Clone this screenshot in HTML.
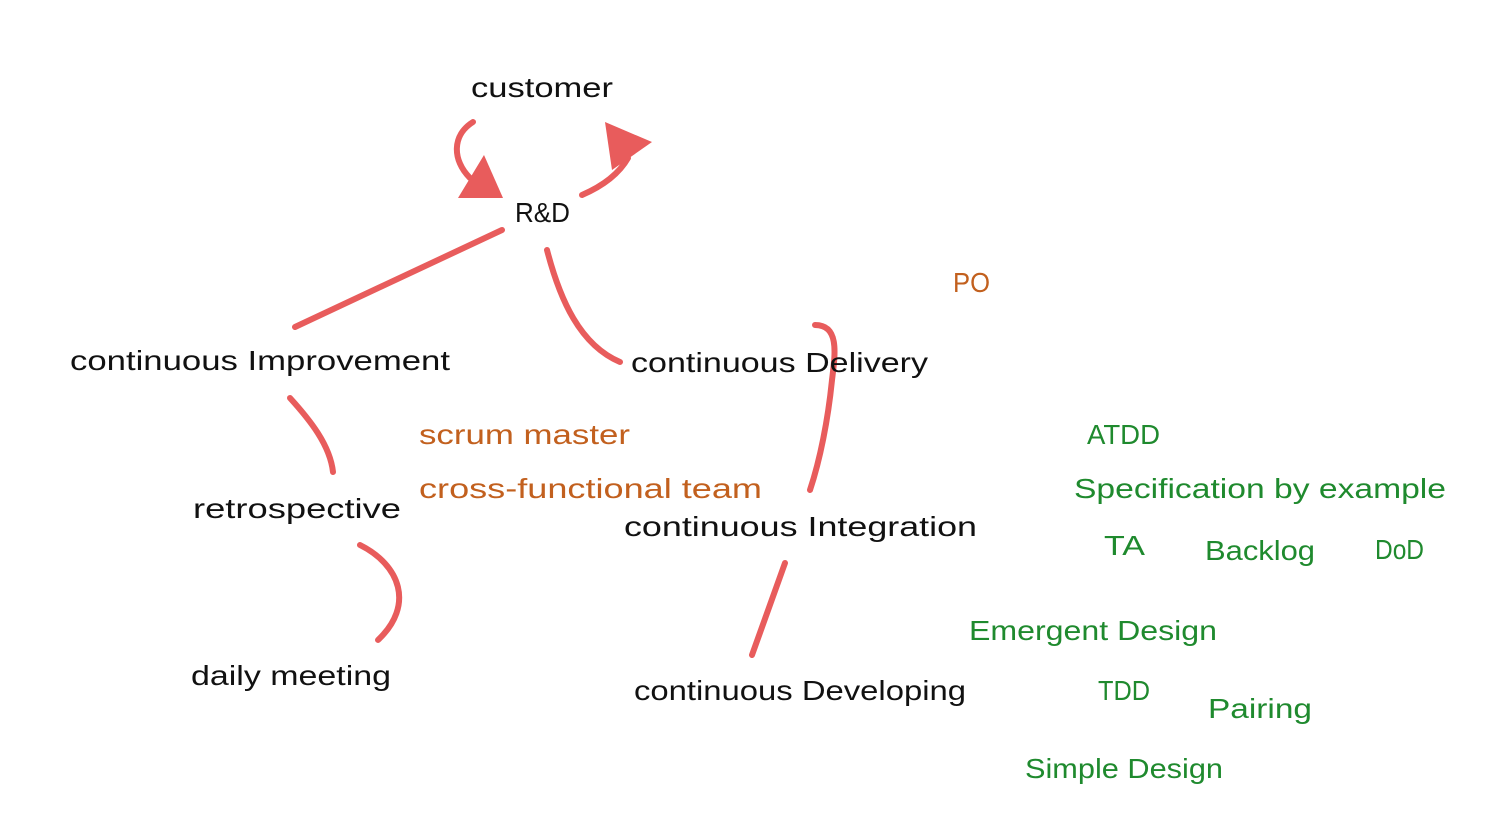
<!DOCTYPE html>
<html><head><meta charset="utf-8"><style>
html,body{margin:0;padding:0;background:#fff;width:1500px;height:826px;overflow:hidden}
text{font-family:"Liberation Sans",sans-serif;font-size:28px}
.k{fill:#111}.o{fill:#c2601e}.g{fill:#1f8a2e}
path{fill:none;stroke:#e85c5c;stroke-width:6;stroke-linecap:round}
</style></head><body>
<svg width="1500" height="826" viewBox="0 0 1500 826">
<path d="M473 122 C452 135 452 160 470 178"/>
<polygon points="458,198 503,198 484,155" fill="#e85c5c"/>
<path d="M582 195 C605 185 620 172 628 158"/>
<polygon points="605,122 652,142 612,170" fill="#e85c5c"/>
<path d="M502 230 L295 327"/>
<path d="M547 250 C560 300 580 345 620 362"/>
<path d="M290 398 C310 420 330 445 333 472"/>
<path d="M360 545 C400 565 415 605 378 640"/>
<path d="M815 325 C840 325 835 355 832 380 C828 420 820 460 810 490"/>
<path d="M785 563 L752 655"/>
<g lengthAdjust="spacingAndGlyphs">
<text class="k" x="471" y="97" textLength="142" lengthAdjust="spacingAndGlyphs">customer</text>
<text class="k" x="515" y="222" textLength="55" lengthAdjust="spacingAndGlyphs">R&amp;D</text>
<text class="o" x="953" y="292" textLength="37" lengthAdjust="spacingAndGlyphs">PO</text>
<text class="k" x="70" y="370" textLength="380" lengthAdjust="spacingAndGlyphs">continuous Improvement</text>
<text class="k" x="631" y="372" textLength="297" lengthAdjust="spacingAndGlyphs">continuous Delivery</text>
<text class="o" x="419" y="444" textLength="211" lengthAdjust="spacingAndGlyphs">scrum master</text>
<text class="o" x="419" y="498" textLength="343" lengthAdjust="spacingAndGlyphs">cross-functional team</text>
<text class="k" x="193" y="518" textLength="208" lengthAdjust="spacingAndGlyphs">retrospective</text>
<text class="k" x="624" y="536" textLength="353" lengthAdjust="spacingAndGlyphs">continuous Integration</text>
<text class="k" x="191" y="685" textLength="200" lengthAdjust="spacingAndGlyphs">daily meeting</text>
<text class="k" x="634" y="700" textLength="332" lengthAdjust="spacingAndGlyphs">continuous Developing</text>
<text class="g" x="1087" y="444" textLength="73" lengthAdjust="spacingAndGlyphs">ATDD</text>
<text class="g" x="1074" y="498" textLength="372" lengthAdjust="spacingAndGlyphs">Specification by example</text>
<text class="g" x="1104" y="555" textLength="41" lengthAdjust="spacingAndGlyphs">TA</text>
<text class="g" x="1205" y="560" textLength="110" lengthAdjust="spacingAndGlyphs">Backlog</text>
<text class="g" x="1375" y="559" textLength="49" lengthAdjust="spacingAndGlyphs">DoD</text>
<text class="g" x="969" y="640" textLength="248" lengthAdjust="spacingAndGlyphs">Emergent Design</text>
<text class="g" x="1098" y="700" textLength="52" lengthAdjust="spacingAndGlyphs">TDD</text>
<text class="g" x="1208" y="718" textLength="104" lengthAdjust="spacingAndGlyphs">Pairing</text>
<text class="g" x="1025" y="778" textLength="198" lengthAdjust="spacingAndGlyphs">Simple Design</text>
</g>
</svg>
</body></html>
